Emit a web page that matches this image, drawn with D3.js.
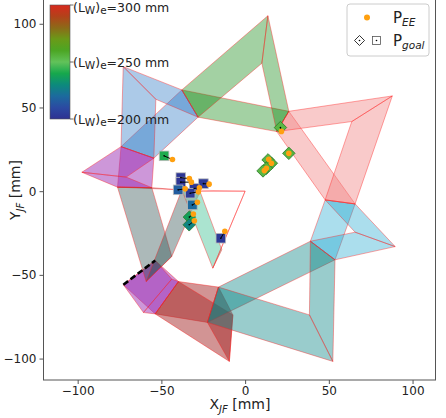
<!DOCTYPE html>
<html>
<head>
<meta charset="utf-8">
<script src="https://cdn.jsdelivr.net/npm/d3@7"></script>
<style>
body { margin: 0; background: #fff; font-family: "DejaVu Sans", sans-serif; }
</style>
</head>
<body>
<svg id="chart" width="446" height="418"></svg>
<script>
// ---- data (mm) ----
// modules along the chain, base -> end effector
var modColors = ['#9b2fb4', '#a52a2a', '#008080', '#1aa5cd', '#f08080', '#008000', '#1f6fc0', '#9b2fb4', '#2f4f4f', '#66cdaa'];
var modAlpha  = [0.5, 0.5, 0.4, 0.37, 0.42, 0.36, 0.37, 0.5, 0.4, 0.55];

// joints between modules: outer point (a) and inner point (b)
var jointA = [[-72.7,-55.9], [-53.7,-73.3], [-22.5,-78.4], [53.7,-41.0], [65.7,-7.6], [26.1,47.7], [-37.8,60.5], [-74.1,26.6], [-76.2,2.4], [-37.8,0.8], [0,0]];
var jointB = [[-53.7,-41.4], [-39.8,-54.0], [-15.9,-57.3], [39.0,-29.9], [47.8,-5.2], [18.9,35.6], [-28.1,44.2], [-54.5,19.7], [-55.7,2.1], [-26.9,-0.2], [0,0]];
// tip of each module: outer and inner corner
var tipOut = [[-60.7,-72.5], [-9.4,-101.7], [52.4,-101.7], [89.6,-33.1], [87.9,56.9], [13.6,104.8], [-72.8,74.4], [-97.5,11.3], [-59.1,-54.0], [-19.3,-46.0]];
var tipIn  = [[-43.8,-52.5], [-7.3,-73.9], [38.4,-73.9], [65.7,-24.5], [63.7,41.6], [10.0,76.4], [-53.3,54.9], [-71.0,8.4], [-43.8,-39.0], [-13.9,-35.0]];

// goals and reached end-effector positions
var goalX  = [-48.4, -38.4, -38.4, -24.9, -40.0, -30.4, -32.8, -31.5, -33.3, -33.4, -14.5, 21.1, 26.1, 13.7, 15.7, 12.7, 10.7];
var goalY  = [21.1, 8.1, 5.4, 4.5, 0.8, 1.6, -1.2, -8.2, -15.5, -20.1, -28.1, 38.0, 22.6, 18.7, 16.7, 13.7, 12.1];
var goalLw = [241, 202, 201, 203, 216, 202, 204, 220, 237, 228, 203, 254, 255, 254, 256, 255, 254];
var goalShape = ['s','s','s','s','s','s','s','s','d','d','s','d','d','d','d','d','d'];
var eeX = [-43.4, -33.3, -32.1, -21.5, -35.8, -27.3, -27.9, -28.5, -30.9, -30.3, -12.1, 21.7, 26.1, 14.1, 15.7, 12.7, 11.5];
var eeY = [18.9, 7.5, 5.4, 4.2, 1.4, 2.0, -0.4, -6.6, -13.7, -17.7, -23.9, 35.7, 22.6, 19.1, 16.7, 13.7, 12.3];

// colour map for (Lw)e
var cmapVals = [200, 210, 220, 230, 240, 250, 260, 270, 280, 290, 300];
var cmapCols = ['#2e3192', '#2b4aa2', '#1c6a9e', '#0c8a7c', '#16a84c', '#62c25a', '#4ca624', '#6a9a18', '#8c6a18', '#b2421a', '#d8291e'];
var cbarTicks = [200, 250, 300];

var xTicks = [-100, -50, 0, 50, 100];
var yTicks = [-100, -50, 0, 50, 100];

// ---- layout ----
var svg = d3.select('#chart');
var pLeft = 43.5, pRight = 435.5, pTop = -1, pBottom = 380;
var x = d3.scaleLinear().domain([-120.4, 113.7]).range([pLeft, pRight]);
var y = d3.scaleLinear().domain([-112.8, 114.8]).range([pBottom, pTop]);
var cmap = d3.scaleLinear().domain(cmapVals).range(cmapCols);

function pt(p) { return x(p[0]) + ',' + y(p[1]); }
function poly(ps) { return ps.map(pt).join(' '); }

var g = svg.append('g');

// ---- modules ----
modColors.forEach(function(col, k) {
    var j1a = jointA[k], j1b = jointB[k], j2a = jointA[k + 1], j2b = jointB[k + 1];
    var to = tipOut[k], ti = tipIn[k];
    var endLink = (j2a[0] == j2b[0] && j2a[1] == j2b[1]);
    var bands = [
        {ps: [j1a, j2a, j2b, j1b], fill: !endLink},
        {ps: [j1a, to, ti, j1b], fill: true},
        {ps: endLink ? [to, j2a] : [to, j2a, j2b, ti], fill: !endLink}
    ];
    bands.forEach(function(b) {
        g.append('polygon')
            .attr('points', poly(b.ps))
            .attr('fill', b.fill ? col : 'none')
            .attr('fill-opacity', modAlpha[k])
            .attr('stroke', '#ff2020')
            .attr('stroke-opacity', 0.45)
            .attr('stroke-width', 0.9)
            .attr('stroke-linejoin', 'round');
    });
});

// base of the chain
g.append('line')
    .attr('x1', x(jointA[0][0])).attr('y1', y(jointA[0][1]))
    .attr('x2', x(jointB[0][0])).attr('y2', y(jointB[0][1]))
    .attr('stroke', '#000').attr('stroke-width', 2.6)
    .attr('stroke-dasharray', '6,3');

// ---- goals ----
var idx = d3.range(goalX.length);
var ms = 4.8;
idx.forEach(function(i) {
    var cx = x(goalX[i]), cy = y(goalY[i]);
    if (goalShape[i] == 's') {
        g.append('rect')
            .attr('x', cx - ms).attr('y', cy - ms)
            .attr('width', 2 * ms).attr('height', 2 * ms)
            .attr('fill', cmap(goalLw[i]))
            .attr('stroke', '#bbb').attr('stroke-width', 0.8);
    } else {
        var d = ms * 1.3;
        g.append('polygon')
            .attr('points', [[cx, cy - d], [cx + d, cy], [cx, cy + d], [cx - d, cy]].join(' '))
            .attr('fill', cmap(goalLw[i]))
            .attr('stroke', '#2a7a2a').attr('stroke-width', 0.8);
    }
});
idx.forEach(function(i) {
    g.append('line')
        .attr('x1', x(goalX[i])).attr('y1', y(goalY[i]))
        .attr('x2', x(eeX[i])).attr('y2', y(eeY[i]))
        .attr('stroke', '#000').attr('stroke-width', 1);
    g.append('circle')
        .attr('cx', x(goalX[i])).attr('cy', y(goalY[i]))
        .attr('r', 0.8).attr('fill', '#000');
});
g.selectAll('circle.ee')
    .data(idx)
    .enter().append('circle')
    .attr('class', 'ee')
    .attr('cx', function(i) { return x(eeX[i]); })
    .attr('cy', function(i) { return y(eeY[i]); })
    .attr('r', 2.8)
    .attr('fill', '#ffa010');

// ---- axes ----
var xAxis = svg.append('g')
    .attr('transform', 'translate(0,' + pBottom + ')')
    .call(d3.axisBottom(x).tickValues(xTicks).tickSize(4).tickSizeOuter(0).tickPadding(2));
var yAxis = svg.append('g')
    .attr('transform', 'translate(' + pLeft + ',0)')
    .call(d3.axisLeft(y).tickValues(yTicks).tickSize(4).tickSizeOuter(0).tickPadding(3));
[xAxis, yAxis].forEach(function(a) {
    a.select('.domain').remove();
    a.selectAll('line').attr('stroke', '#555');
    a.selectAll('text').attr('fill', '#222').style('font-size', '12px').style('font-family', 'DejaVu Sans');
});
svg.append('rect')
    .attr('x', pLeft).attr('y', pTop)
    .attr('width', pRight - pLeft).attr('height', pBottom - pTop)
    .attr('fill', 'none').attr('stroke', '#555').attr('stroke-width', 1);

// axis labels
var xl = svg.append('text')
    .attr('x', 240).attr('y', 409)
    .attr('text-anchor', 'middle')
    .attr('fill', '#222').style('font-size', '14px');
xl.append('tspan').text('X');
xl.append('tspan').attr('dy', 4).style('font-size', '10px').style('font-style', 'italic').text('JF');
xl.append('tspan').attr('dy', -4).text(' [mm]');

var yl = svg.append('text')
    .attr('transform', 'translate(20,190) rotate(-90)')
    .attr('text-anchor', 'middle')
    .attr('fill', '#222').style('font-size', '14px');
yl.append('tspan').text('Y');
yl.append('tspan').attr('dy', 4).style('font-size', '10px').style('font-style', 'italic').text('JF');
yl.append('tspan').attr('dy', -4).text(' [mm]');

// ---- colourbar ----
var cbX = 50, cbW = 20, cbTop = 5, cbBot = 119;
var grad = svg.append('defs').append('linearGradient')
    .attr('id', 'cbg').attr('x1', 0).attr('y1', 1).attr('x2', 0).attr('y2', 0);
cmapVals.forEach(function(v, i) {
    grad.append('stop')
        .attr('offset', (v - 200) / 100)
        .attr('stop-color', cmapCols[i]);
});
svg.append('rect')
    .attr('x', cbX).attr('y', cbTop).attr('width', cbW).attr('height', cbBot - cbTop)
    .attr('fill', 'url(#cbg)').attr('stroke', '#555').attr('stroke-width', 0.6);
var cbScale = d3.scaleLinear().domain([200, 300]).range([cbBot, cbTop]);
cbarTicks.forEach(function(v) {
    svg.append('line')
        .attr('x1', cbX + cbW).attr('x2', cbX + cbW + 3.5)
        .attr('y1', cbScale(v)).attr('y2', cbScale(v))
        .attr('stroke', '#444').attr('stroke-width', 0.8);
    var t = svg.append('text')
        .attr('x', cbX + cbW + 3).attr('y', Math.max(cbScale(v) + 4.5, 11.5))
        .attr('fill', '#222').style('font-size', '12.5px');
    t.append('tspan').text('(L');
    t.append('tspan').attr('dy', 2.5).style('font-size', '10.5px').text('W');
    t.append('tspan').attr('dy', -2.5).text(')');
    t.append('tspan').attr('dy', 2.5).style('font-size', '10.5px').text('e');
    t.append('tspan').attr('dy', -2.5).text('=' + v + ' mm');
});

// ---- legend ----
var lg = svg.append('g');
lg.append('rect')
    .attr('x', 347).attr('y', 4).attr('width', 82).attr('height', 52).attr('rx', 3)
    .attr('fill', '#fff').attr('fill-opacity', 0.85)
    .attr('stroke', '#ccc').attr('stroke-width', 1);
lg.append('circle').attr('cx', 367).attr('cy', 17.5).attr('r', 3).attr('fill', '#ffa010');
lg.append('polygon')
    .attr('points', [[359.5, 35.5], [364.5, 40.5], [359.5, 45.5], [354.5, 40.5]].join(' '))
    .attr('fill', '#fff').attr('stroke', '#000').attr('stroke-width', 0.8);
lg.append('circle').attr('cx', 359.5).attr('cy', 40.5).attr('r', 0.8).attr('fill', '#000');
lg.append('rect').attr('x', 372.5).attr('y', 36.5).attr('width', 8).attr('height', 8)
    .attr('fill', '#fff').attr('stroke', '#555').attr('stroke-width', 0.8);
lg.append('circle').attr('cx', 376.5).attr('cy', 40.5).attr('r', 0.8).attr('fill', '#000');
var l1 = lg.append('text').attr('x', 393).attr('y', 23).attr('fill', '#222').style('font-size', '15px');
l1.append('tspan').text('P');
l1.append('tspan').attr('dy', 3).style('font-size', '10.5px').style('font-style', 'italic').text('EE');
var l2 = lg.append('text').attr('x', 393).attr('y', 46).attr('fill', '#222').style('font-size', '15px');
l2.append('tspan').text('P');
l2.append('tspan').attr('dy', 3).style('font-size', '10.5px').style('font-style', 'italic').text('goal');
</script>
</body>
</html>
